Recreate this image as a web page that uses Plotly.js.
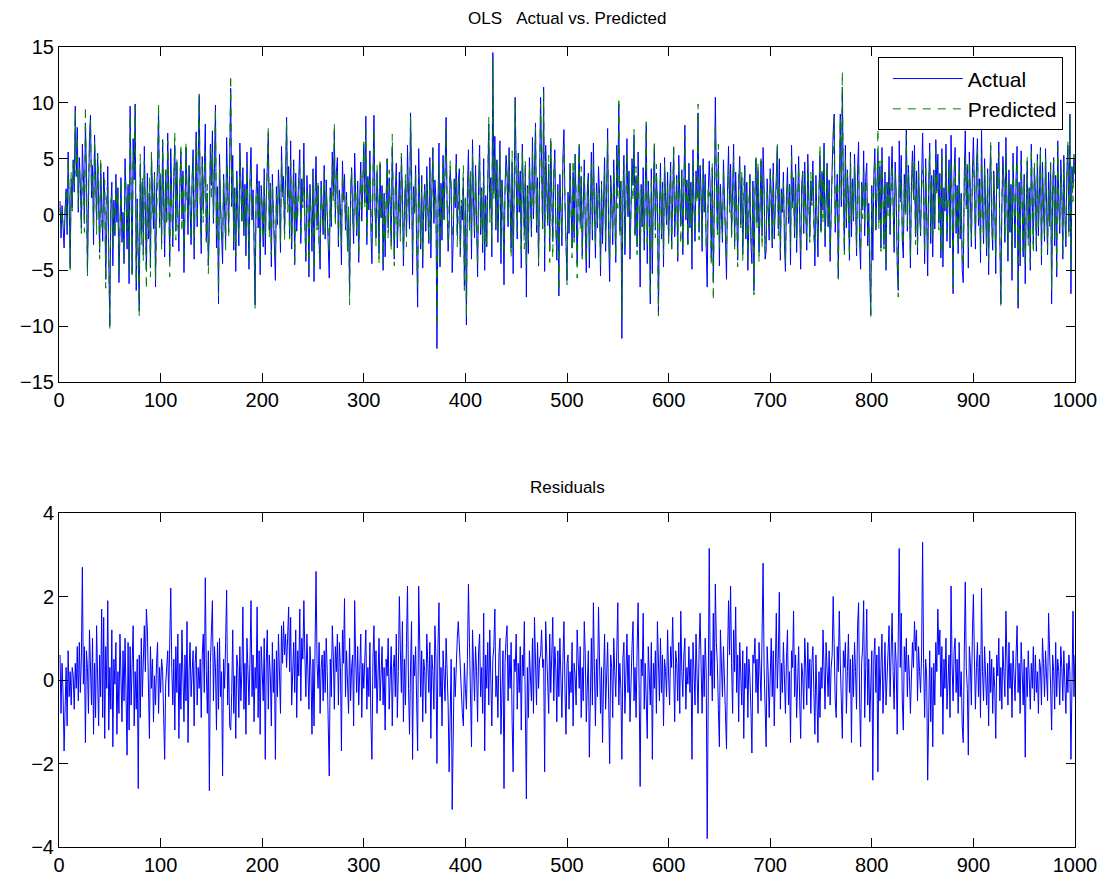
<!DOCTYPE html>
<html>
<head>
<meta charset="utf-8">
<script src="https://cdn.plot.ly/plotly-3.0.1.min.js"></script>
<style>html,body{margin:0;padding:0;background:#fff;}#chart{width:1106px;height:881px;}</style>
</head>
<body>
<div id="chart"></div>
<script>
const topTitle = "OLS\u00a0\u00a0\u00a0Actual vs. Predicted";
const bottomTitle = "Residuals";
const legendNames = ["Actual", "Predicted"];
const xTicks = [0,100,200,300,400,500,600,700,800,900,1000];
const yTicksTop = [-15,-10,-5,0,5,10,15];
const yTicksBottom = [-4,-2,0,2,4];

const actual = [
1.2,-2.1,0.8,-1.5,-3.0,0.4,2.3,-1.8,5.6,1.1,-4.8,3.2,0.6,4.9,2.0,9.7,3.4,7.8,0.2,5.1,
2.8,-1.2,6.3,3.5,-0.8,8.2,4.0,-5.2,2.6,6.9,8.9,1.5,4.4,-2.7,7.1,3.0,-0.5,5.5,2.2,-3.4,
4.6,0.9,-2.4,3.8,1.7,-5.8,2.1,4.3,-3.9,-10.0,0.5,2.9,-4.6,1.3,-1.9,3.6,-0.7,2.4,-6.1,1.0,
3.3,-2.5,0.2,-4.4,5.0,1.8,-3.1,2.7,-6.2,9.7,0.6,-5.3,6.8,3.1,9.9,-6.8,1.4,-5.5,-8.6,4.5,
-1.7,2.9,-3.6,6.1,0.3,-5.0,3.7,-2.2,1.9,-4.8,5.4,0.7,-1.3,3.8,-6.5,2.0,4.6,9.2,-0.9,3.5,
-2.6,6.7,1.2,-3.8,4.0,-0.6,7.3,2.5,-4.1,5.9,0.8,-2.9,3.4,6.2,-1.5,4.7,0.1,-3.3,2.8,5.6,
-0.4,3.9,-5.2,1.6,6.0,2.3,-1.8,4.4,0.5,-2.7,3.1,5.8,-4.0,2.2,7.4,-1.1,4.9,10.6,1.3,-3.5,
5.2,0.4,3.7,8.1,-2.3,1.9,-4.6,-1.0,6.3,2.6,7.5,-0.8,4.1,9.8,-3.0,2.5,-8.0,5.4,0.9,-2.1,
-4.4,3.6,1.0,-2.5,6.9,2.1,-1.6,4.8,11.3,0.7,5.3,-3.2,2.4,-5.1,3.9,0.3,-2.8,6.4,1.5,-0.6,
4.2,-1.9,2.7,-3.7,5.6,0.2,-4.9,3.3,6.0,-0.5,2.2,-2.6,-8.1,1.8,4.5,-1.2,3.0,-5.4,2.6,0.8,
-2.9,4.1,-3.6,1.3,5.5,7.2,-1.4,2.8,-4.7,3.6,0.1,-2.3,-5.9,2.5,-0.9,4.0,1.6,-3.4,6.1,2.0,
3.4,-1.7,5.0,8.7,1.2,4.3,-2.0,6.6,-3.1,2.3,4.9,-4.5,3.7,-1.5,0.6,2.9,5.8,-2.6,3.2,1.1,
6.4,-0.8,-4.2,3.5,1.4,-5.6,2.7,0.3,-3.3,4.1,-6.0,1.9,5.2,-1.0,2.6,-2.4,-4.9,3.0,0.7,-1.8,
4.4,-2.2,3.1,0.5,-3.6,-5.7,2.4,-1.1,5.6,1.7,7.5,-0.3,3.8,5.1,-2.9,2.2,0.4,-4.5,4.8,1.3,
3.6,-1.4,2.0,-3.2,-0.1,-7.1,1.8,4.2,0.2,-2.6,5.5,2.7,-1.9,3.0,-4.3,1.5,4.7,-0.6,2.3,6.3,
1.1,8.8,-2.7,3.4,0.4,5.7,-1.6,-4.4,2.9,8.9,0.6,-2.1,3.7,1.2,-3.5,4.5,-0.3,2.6,-5.0,1.9,
-3.8,2.4,5.0,-1.2,3.3,0.8,-2.5,6.1,1.7,-4.0,2.0,4.6,-3.0,0.9,3.8,-1.7,5.2,2.1,-4.6,0.5,
3.0,-2.0,6.2,1.6,-1.3,9.1,4.0,-5.4,2.5,0.2,4.4,-2.8,-8.3,5.9,1.0,-3.1,3.5,-4.8,0.9,2.7,
-1.5,4.3,0.7,-2.6,5.1,-3.9,2.2,6.0,-0.8,3.1,1.4,-12.0,0.5,6.4,-4.7,2.8,-2.3,5.3,-0.4,3.6,
8.7,1.0,-3.3,-1.2,4.0,2.5,-5.2,-2.4,3.2,0.6,5.4,-1.9,2.9,4.1,-3.6,0.8,-0.5,3.3,-6.4,1.4,
-9.9,2.3,5.8,-0.7,3.6,-4.0,6.7,1.2,-2.1,4.4,0.1,-5.6,3.0,6.2,-1.8,2.4,-3.4,5.0,-5.0,1.7,
-2.9,4.2,8.1,0.5,3.3,-3.8,14.5,2.1,7.0,-1.4,4.9,-2.5,1.6,6.6,-4.4,3.1,0.4,-6.3,2.5,5.3,
3.9,-1.1,6.0,1.5,-3.0,4.7,-5.3,2.0,10.5,3.6,-2.2,5.5,0.2,3.9,-4.8,6.3,1.0,-1.7,4.4,-7.4,
2.6,-3.5,5.1,0.8,-2.0,6.9,-0.4,4.0,8.2,-1.6,3.3,-4.6,2.1,10.5,4.8,-1.3,11.4,-5.1,6.2,2.9,
-0.8,4.5,-3.2,6.6,1.9,-2.4,3.4,5.8,-1.0,-4.1,2.7,-7.3,3.6,0.9,-2.8,5.2,7.6,1.1,-3.4,-5.9,
2.0,-1.7,4.6,0.3,-3.0,3.8,-2.1,5.4,1.2,-4.5,2.5,6.1,-0.6,3.4,-3.7,1.6,4.9,-1.3,-5.2,2.2,
3.7,-4.8,1.0,5.6,-2.3,6.4,0.7,-3.9,2.8,-1.2,4.3,1.9,-5.5,3.0,-2.6,0.5,5.1,-3.3,2.3,7.7,
-1.9,-6.0,3.5,1.3,-2.7,4.9,0.6,-4.3,6.2,2.4,9.9,-1.5,3.0,-11.1,1.8,5.3,-3.6,2.1,6.8,-0.2,
3.9,-4.0,1.5,5.0,2.6,7.1,-1.8,3.4,-2.9,5.6,0.4,-6.5,2.7,-1.1,4.2,-3.2,1.9,8.0,-4.4,3.0,
0.6,-8.0,4.1,-5.3,2.0,6.3,-1.4,3.7,1.1,-8.8,0.3,4.6,-2.2,2.9,-4.7,5.1,1.6,-0.9,3.8,-2.5,
1.3,4.7,-3.1,2.4,6.0,-2.0,0.8,3.5,-4.2,5.3,1.7,-1.0,4.0,-3.6,2.2,8.0,-0.5,3.1,-2.7,4.6,
-1.2,2.9,-4.9,5.8,0.6,-2.4,3.9,1.5,9.1,-1.6,4.4,2.0,-3.3,5.0,0.2,3.6,-2.8,-6.5,1.9,4.8,
2.3,-3.9,4.2,-6.1,1.0,10.5,3.2,-1.4,5.6,-4.6,2.7,0.4,-2.5,4.9,1.6,-3.0,-5.8,2.2,6.1,0.8,
4.5,-1.8,2.0,6.3,-2.9,3.8,0.5,-4.1,2.6,5.2,-0.9,3.3,-3.5,1.2,4.4,-2.2,2.9,-5.0,1.7,3.6,
-2.6,-4.4,3.0,-6.8,2.1,5.0,-0.7,3.9,-3.4,1.5,4.8,-1.9,6.0,2.4,-4.0,-3.3,3.2,0.6,-2.3,4.1,
1.9,-3.0,4.6,-2.2,0.9,3.7,6.1,-1.3,5.0,-4.1,2.3,0.2,3.8,-2.5,-5.1,1.6,4.2,-0.8,2.7,-4.5,
6.2,0.9,3.3,-2.1,4.5,-3.4,1.1,5.2,-0.4,-4.9,2.6,3.9,-1.7,4.7,0.3,-3.2,5.4,1.4,-2.0,3.0,
1.2,4.8,-2.4,-4.6,3.5,-0.9,-3.8,2.1,5.3,-1.5,3.7,0.4,6.4,-2.9,2.5,4.6,-1.1,3.1,-4.2,1.8,
4.3,7.4,9.0,-1.6,2.0,3.6,-5.6,5.1,9.0,0.7,11.4,2.4,-3.3,6.2,-1.2,4.0,1.5,-4.1,5.6,-2.0,
3.2,-0.6,5.4,1.8,-3.7,4.1,6.5,-2.5,-4.9,2.9,0.4,5.7,-1.9,3.3,4.6,-2.8,1.0,-5.2,-9.0,2.6,
-4.1,3.5,5.9,-1.4,2.2,5.5,-0.5,4.3,-3.0,6.0,1.3,-2.7,3.8,-5.0,2.9,0.6,5.2,-1.8,3.4,6.1,
0.9,-3.4,4.7,2.0,-4.5,-6.8,6.6,1.4,5.3,-2.2,-3.9,3.6,0.2,8.1,-1.5,4.4,1.9,-4.8,2.5,5.7,
1.6,6.2,-2.0,3.9,-3.6,4.8,0.5,-1.9,3.0,7.3,2.2,-4.4,5.0,1.1,-5.5,2.8,6.4,-2.6,3.5,-3.8,
4.0,-1.3,6.7,2.1,5.4,-0.8,3.7,-3.9,5.9,-4.7,2.4,0.3,6.3,-2.4,3.2,4.9,-3.0,7.1,1.6,-7.1,
3.8,6.0,-1.7,2.6,-3.5,5.1,-2.2,1.9,-5.0,-6.1,3.4,7.5,0.8,4.3,-4.8,5.6,2.0,-2.9,3.7,6.9,
2.5,-3.1,4.4,6.8,-1.0,3.2,-4.3,7.6,0.9,-2.6,5.0,1.7,-3.7,4.1,-5.4,2.8,6.2,-0.7,-3.2,3.9,
1.0,-5.3,4.6,2.3,6.5,-2.0,-8.0,0.6,5.2,3.1,-2.5,6.9,1.5,-4.2,4.0,-1.6,2.7,-5.9,5.5,0.8,
-3.0,3.3,6.1,-8.4,2.9,-4.6,5.7,1.2,-3.8,3.6,-6.2,0.7,4.8,-2.1,2.4,-5.0,6.3,1.0,-2.7,4.2,
2.0,-3.3,5.4,-1.9,3.1,6.0,-4.5,4.7,0.6,-2.4,5.9,1.3,-3.6,3.8,-0.8,4.6,-8.0,2.2,5.1,-2.8,
3.5,-5.6,6.6,1.1,-1.7,4.9,2.4,-4.0,5.3,0.2,-2.9,3.8,6.2,-1.5,9.0,-7.1,4.3,2.8,5.0,3.6
];

const predicted = [
0.6,-1.3,0.4,-1.2,-1.3,0.6,2.0,-0.7,4.9,1.5,-5.0,3.8,0.3,4.8,2.7,9.3,3.6,7.0,0.7,4.2,
3.1,-1.7,3.6,3.6,-1.6,9.7,3.3,-5.5,3.4,5.7,8.4,2.1,3.4,-1.4,6.7,3.9,-1.8,5.3,3.3,-4.0,
5.0,-0.8,-1.5,2.3,3.1,-6.6,2.3,2.4,-2.7,-10.3,1.2,1.7,-3.0,0.8,-1.8,2.7,0.6,2.2,-5.3,-0.1,
3.0,-1.5,-0.5,-3.9,4.0,2.1,-1.3,1.8,-5.0,8.9,1.2,-5.7,5.5,4.2,9.7,-6.1,0.9,-2.9,-9.2,5.4,
-2.7,3.3,-4.2,4.8,0.1,-6.7,2.5,-1.7,3.3,-5.6,5.6,0.2,-0.3,3.7,-5.9,1.6,3.7,10.0,-1.2,3.8,
-3.1,6.5,2.1,-1.9,4.1,-0.9,6.6,2.9,-5.6,3.7,0.5,-2.3,2.9,7.4,-2.3,5.0,-1.0,-1.9,2.4,6.3,
-1.6,3.8,-4.2,1.0,6.5,0.9,-0.3,4.2,-0.4,-2.3,3.0,5.1,-2.9,1.8,6.6,-0.5,4.6,10.8,0.8,-2.6,
4.6,-0.7,4.0,5.65,-2.5,2.7,-5.3,1.65,5.9,1.3,5.6,-0.3,3.3,9.5,-1.8,1.6,-7.3,4.4,1.3,-2.3,
-2.1,3.1,1.2,-3.4,4.75,2.7,-2.0,5.9,12.5,1.0,4.1,-2.4,2.3,-3.7,3.3,0.0,-1.9,5.6,2.0,-0.8,
2.45,-1.2,2.3,-2.4,4.6,0.0,-4.3,2.8,4.1,-0.1,1.6,-1.6,-8.4,2.0,2.75,-0.3,2.3,-4.1,1.8,0.6,
-2.4,3.1,-1.7,0.9,4.3,7.9,-2.0,2.7,-3.6,2.7,0.4,-2.8,-4.0,1.8,-0.5,2.9,1.4,-2.6,4.8,1.6,
2.0,-2.3,3.9,8.4,0.2,2.55,-2.2,5.1,-2.5,1.9,4.0,-4.2,2.5,-0.6,-0.1,2.8,4.1,-2.1,2.2,0.6,
4.5,-1.4,-3.8,2.4,1.1,-4.9,1.9,0.1,-2.0,3.6,-4.9,0.7,2.6,-1.4,2.8,-3.3,-4.1,2.7,0.1,-1.3,
3.7,-1.9,2.1,0.3,-2.7,-3.4,1.9,-0.7,4.3,1.1,8.2,-1.1,3.6,4.0,-2.3,1.3,0.1,-2.8,3.6,0.9,
1.65,-1.0,1.3,-3.3,0.7,-8.1,2.3,3.9,-0.4,-1.5,3.6,2.2,-1.6,2.2,-3.7,1.3,3.6,0.3,1.9,6.5,
0.5,7.6,-2.0,3.1,0.8,4.8,-0.6,-2.5,2.4,7.6,0.8,-2.8,4.5,0.8,-4.5,5.0,-0.5,1.8,-4.4,1.6,
-2.6,1.9,4.9,-2.2,4.0,0.4,-3.3,7.2,1.4,-4.6,2.4,3.5,-2.1,0.7,1.8,-2.4,5.5,0.7,-3.6,0.0,
3.6,-2.9,3.95,1.8,0.0,8.8,2.6,-3.5,1.9,0.1,3.6,-2.3,-6.6,3.65,0.7,-2.7,2.8,-3.8,0.4,2.5,
-0.7,3.2,0.3,-2.3,4.2,-2.5,1.6,5.8,-0.1,1.8,0.9,-10.0,-0.3,4.55,-4.3,2.5,-1.2,4.6,-0.5,4.1,
7.7,0.6,-2.7,1.0,4.9,2.0,-2.1,-0.9,2.9,1.0,4.8,-2.9,1.5,3.3,-3.8,1.3,0.3,4.4,-6.8,1.6,
-9.2,1.8,3.5,-1.6,3.9,-2.4,5.5,0.8,-1.6,3.6,-0.1,-4.6,2.3,5.1,-1.4,2.1,-2.6,3.4,-3.3,1.1,
-2.7,3.3,8.7,-0.7,3.0,-2.7,14.0,1.3,5.3,-1.0,4.8,-1.6,1.0,5.6,-3.1,2.9,-0.3,-3.7,2.1,4.3,
2.6,-0.6,5.4,1.7,-3.9,5.7,-3.1,1.5,10.3,2.5,-1.5,5.1,0.5,3.1,-3.6,5.7,0.9,-3.1,4.8,-4.55,
2.3,-2.6,4.4,0.6,-1.5,5.9,0.4,2.5,7.8,-1.0,2.4,-4.4,1.6,9.9,3.6,-1.6,10.9,-2.9,4.8,2.3,
-1.0,5.3,-4.3,6.9,1.3,-3.9,3.9,5.0,-1.3,-3.1,2.0,-6.9,2.6,0.8,-1.9,4.7,6.2,1.3,-2.1,-6.3,
1.4,-1.0,4.4,0.6,-3.9,4.9,-2.5,5.3,1.8,-5.7,2.0,6.3,-1.4,4.3,-4.0,2.1,3.5,-1.9,-4.2,2.0,
3.0,-2.95,0.7,4.6,-1.7,4.55,0.5,-2.8,2.3,-0.8,2.55,1.3,-4.7,2.7,-1.1,0.4,4.0,-2.6,1.9,6.8,
-1.4,-4.0,2.9,1.0,-1.8,3.9,0.4,-3.9,5.5,0.55,10.5,-1.9,3.2,-9.2,1.3,4.4,-2.8,1.8,5.7,0.1,
3.3,-3.0,1.3,4.2,1.2,7.6,-2.1,4.3,-3.6,3.75,0.6,-3.95,2.2,-1.2,2.6,-2.5,1.5,8.3,-3.0,2.2,
0.4,-7.4,3.2,-3.4,1.6,6.5,-2.1,4.5,-0.3,-9.1,0.8,3.6,-1.9,2.3,-3.6,4.6,1.4,-0.5,2.6,-2.6,
1.9,3.9,-3.4,0.9,6.2,-1.0,0.1,3.1,-3.7,4.4,2.5,-2.65,3.8,-3.2,1.6,7.0,0.2,2.8,-2.6,3.8,
-0.9,2.4,-3.0,4.9,0.4,-1.8,2.8,1.1,9.9,-2.3,2.8,1.7,-2.5,4.4,0.6,2.6,-3.0,-2.7,2.4,1.65,
2.2,-4.6,4.7,-7.7,1.2,8.2,2.3,-1.8,6.3,-3.0,1.5,0.1,-2.1,4.1,1.5,-2.1,-4.15,1.7,4.2,0.2,
2.25,-2.2,2.8,5.1,-3.1,2.05,0.8,-4.7,3.6,4.3,-1.2,3.9,-4.2,2.6,4.0,-2.0,2.1,-4.1,1.2,3.5,
-1.9,-2.65,2.4,-7.2,1.1,5.3,-1.2,4.7,-4.3,1.3,5.3,-3.0,3.2,2.1,-3.4,-1.7,2.4,0.4,-1.4,3.6,
0.9,-2.6,3.9,-1.1,0.6,2.1,6.3,-1.9,2.9,-3.4,1.9,0.5,2.9,-2.6,-4.3,1.1,3.0,-0.2,2.5,-3.0,
5.5,0.6,1.65,-1.7,3.9,-2.5,0.9,4.4,0.1,-3.5,2.2,3.8,-1.0,3.7,0.0,-2.6,4.5,1.6,-2.5,3.8,
0.8,4.0,-2.1,-3.3,2.9,-0.4,-2.3,1.9,6.2,-1.8,3.9,-0.8,5.9,-2.2,1.6,4.5,-0.7,2.4,-3.6,1.5,
3.7,5.4,8.7,-1.1,2.9,2.8,-5.8,3.45,8.6,1.3,12.8,1.7,-3.6,5.3,-0.4,3.8,0.4,-3.8,5.1,-0.5,
2.6,-0.2,4.5,1.6,-3.0,2.8,4.65,-2.0,-3.3,2.5,-0.4,3.8,-1.0,3.0,2.9,-2.2,0.5,-4.2,-9.2,1.9,
-1.7,3.0,4.9,-1.1,1.6,7.7,-1.3,4.8,-3.3,4.9,2.1,-3.1,2.9,-4.4,2.7,-0.1,3.9,-1.4,2.9,4.5,
0.7,-2.7,3.8,1.6,-3.2,-7.4,3.45,1.1,3.7,-1.7,-2.7,2.8,0.0,7.1,-1.1,3.8,1.8,-4.0,2.0,4.8,
1.3,4.8,-2.7,2.7,-3.1,4.0,0.3,-1.6,2.4,4.0,1.8,-3.5,4.5,1.0,-3.1,3.0,5.7,-1.6,3.2,-2.2,
3.6,-0.7,5.8,1.9,3.7,-1.4,2.5,-3.5,5.1,-3.4,1.9,0.5,5.3,-1.7,2.9,4.3,-2.1,4.85,1.2,-6.6,
3.1,5.0,-1.4,2.1,-2.7,4.2,-1.8,1.7,-3.9,-4.6,2.8,5.15,0.5,4.5,-3.0,4.8,1.6,-2.3,2.6,4.85,
2.0,-2.4,4.1,5.9,-0.6,2.6,-3.4,5.4,0.7,-2.1,4.2,1.6,-3.1,3.7,-4.3,2.1,6.5,-1.2,-2.4,3.6,
1.2,-3.9,4.0,2.2,5.5,-1.5,-8.3,1.3,4.4,2.9,-2.1,5.25,1.0,-3.6,3.1,-1.4,2.3,-5.0,4.8,0.7,
-2.5,2.7,4.8,-8.1,2.5,-3.8,4.8,1.0,-3.2,3.1,-4.35,0.4,5.2,-2.8,2.3,-4.3,5.9,1.2,-3.5,4.7,
1.4,-3.0,5.2,-1.1,2.6,5.7,-3.9,3.7,0.2,-2.0,5.2,1.2,-3.1,2.2,-1.1,4.8,-6.8,1.6,4.9,-2.1,
2.6,-5.2,6.1,0.9,-1.1,4.1,2.1,-3.5,4.6,0.1,-2.1,3.4,6.5,-2.1,8.8,-5.2,3.8,1.15,5.4,3.0
];

const residuals = [
0.6,-0.8,0.4,-0.3,-1.7,-0.2,0.3,-1.1,0.7,-0.4,0.2,-0.6,0.3,0.1,-0.7,0.4,-0.2,0.8,-0.5,0.9,
-0.3,0.5,2.7,-0.1,0.8,-1.5,0.7,0.3,-0.8,1.2,0.5,-0.6,1.0,-1.3,0.4,-0.9,1.3,0.2,-1.1,0.6,
-0.4,1.7,-0.9,1.5,-1.4,0.8,-0.2,1.9,-1.2,0.3,-0.7,1.2,-1.6,0.5,-0.1,0.9,-1.3,0.2,-0.8,1.1,
0.3,-1.0,0.7,-0.5,1.0,-0.3,-1.8,0.9,-1.2,0.8,-0.6,0.4,1.3,-1.1,0.2,-0.7,0.5,-2.6,0.6,-0.9,
1.0,-0.4,0.6,1.3,0.2,1.7,1.2,-0.5,-1.4,0.8,-0.2,0.5,-1.0,0.1,-0.6,0.4,0.9,-0.8,0.3,-0.3,
0.5,0.2,-0.9,-1.9,-0.1,0.3,0.7,-0.4,1.5,2.2,0.3,-0.6,0.5,-1.2,0.8,-0.3,1.1,-1.4,0.4,-0.7,
1.2,0.1,-1.0,0.6,-0.5,1.4,-1.5,0.2,0.9,-0.4,0.1,0.7,-1.1,0.4,0.8,-0.6,0.3,-0.2,0.5,-0.9,
0.6,1.1,-0.3,2.45,0.2,-0.8,0.7,-2.65,0.4,1.3,1.9,-0.5,0.8,0.3,-1.2,0.9,-0.7,1.0,-0.4,0.2,
-2.3,0.5,-0.2,0.9,2.15,-0.6,0.4,-1.1,-1.2,-0.3,1.2,-0.8,0.1,-1.4,0.6,0.3,-0.9,0.8,-0.5,0.2,
1.75,-0.7,0.4,-1.3,1.0,0.2,-0.6,0.5,1.9,-0.4,0.6,-1.0,0.3,-0.2,1.75,-0.9,0.7,-1.3,0.8,0.2,
-0.5,1.0,-1.9,0.4,1.2,-0.7,0.6,0.1,-1.1,0.9,-0.3,0.5,-1.9,0.7,-0.4,1.1,0.2,-0.8,1.3,0.4,
1.4,0.6,1.1,0.3,1.0,1.75,0.2,1.5,-0.6,0.4,0.9,-0.3,1.2,-0.9,0.7,0.1,1.7,-0.5,1.0,0.5,
1.9,0.6,-0.4,1.1,0.3,-0.7,0.8,0.2,-1.3,0.5,-1.1,1.2,2.6,0.4,-0.2,0.9,-0.8,0.3,0.6,-0.5,
0.7,-0.3,1.0,0.2,-0.9,-2.3,0.5,-0.4,1.3,0.6,-0.7,0.8,0.2,1.1,-0.6,0.9,0.3,-1.7,1.2,0.4,
1.95,-0.4,0.7,0.1,-0.8,1.0,-0.5,0.3,0.6,-1.1,1.9,0.5,-0.3,0.8,-0.6,0.2,1.1,-0.9,0.4,-0.2,
0.6,1.2,-0.7,0.3,-0.4,0.9,-1.0,-1.9,0.5,1.3,-0.2,0.7,-0.8,0.4,1.0,-0.5,0.2,0.8,-0.6,0.3,
-1.2,0.5,0.1,1.0,-0.7,0.4,0.8,-1.1,0.3,0.6,-0.4,1.1,-0.9,0.2,2.0,0.7,-0.3,1.4,-1.0,0.5,
-0.6,0.9,2.25,-0.2,-1.3,0.3,1.4,-1.9,0.6,0.1,0.8,-0.5,-1.7,2.25,0.3,-0.4,0.7,-1.0,0.5,0.2,
-0.8,1.1,0.4,-0.3,0.9,-1.4,0.6,0.2,-0.7,1.3,0.5,-2.0,0.8,1.85,-0.4,0.3,-1.1,0.7,0.1,-0.5,
1.0,0.4,-0.6,-2.2,-0.9,0.5,-3.1,-1.5,0.3,-0.4,0.6,1.0,1.4,0.8,0.2,-0.5,-0.8,-1.1,0.4,-0.2,
-0.7,0.5,2.3,0.9,-0.3,-1.6,1.2,0.4,-0.5,0.8,0.2,-1.0,0.7,1.1,-0.4,0.3,-0.8,1.6,-1.7,0.6,
-0.2,0.9,-0.6,1.2,0.3,-1.1,0.5,0.8,1.7,-0.4,0.1,-0.9,0.6,1.0,-1.3,0.2,0.7,-2.6,0.4,1.0,
1.3,-0.5,0.6,-0.2,0.9,-1.0,-2.2,0.5,0.2,1.1,-0.7,0.4,-0.3,0.8,-1.2,0.6,0.1,1.4,-0.4,-2.85,
0.3,-0.9,0.7,0.2,-0.5,1.0,-0.8,1.5,0.4,-0.6,0.9,-0.2,0.5,0.6,1.2,0.3,0.5,-2.2,1.4,0.6,
0.2,-0.8,1.1,-0.3,0.6,1.5,-0.5,0.8,0.3,-1.0,0.7,-0.4,1.0,0.1,-0.9,0.5,1.4,-0.2,-1.3,0.4,
0.6,-0.7,0.2,-0.3,0.9,-1.1,0.4,0.1,-0.6,1.2,0.5,-0.2,0.8,-0.9,0.3,-0.5,1.4,0.6,-1.0,0.2,
0.7,-1.85,0.3,1.0,-0.6,1.85,0.2,-1.1,0.5,-0.4,1.75,0.6,-0.8,0.3,-1.5,0.1,1.1,-0.7,0.4,0.9,
-0.5,-2.0,0.6,0.3,-0.9,1.0,0.2,-0.4,0.7,1.85,-0.6,0.4,-0.2,-1.9,0.5,0.9,-0.8,0.3,1.1,-0.3,
0.6,-1.0,0.2,0.8,1.4,-0.5,0.3,-0.9,0.7,1.85,-0.2,-2.55,0.5,0.1,1.6,-0.7,0.4,-0.3,-1.4,0.8,
0.2,-0.6,0.9,-1.9,0.4,-0.2,0.7,-0.8,1.4,0.3,-0.5,1.0,-0.3,0.6,-1.1,0.5,0.2,-0.4,1.2,0.1,
-0.6,0.8,0.3,1.5,-0.2,-1.0,0.7,0.4,-0.5,0.9,-0.8,1.65,0.2,-0.4,0.6,1.0,-0.7,0.3,-0.1,0.8,
-0.3,0.5,-1.9,0.9,0.2,-0.6,1.1,0.4,-0.8,0.7,1.6,0.3,-0.8,0.6,-0.4,1.0,0.2,-3.8,-0.5,3.15,
0.1,0.7,-0.5,1.6,-0.2,2.3,0.9,0.4,-0.7,-1.6,1.2,0.3,-0.4,0.8,0.1,-0.9,-1.65,0.5,1.9,0.6,
2.25,0.4,-0.8,1.2,0.2,1.75,-0.3,0.6,-1.0,0.9,0.3,-0.6,0.7,-1.4,0.4,-0.2,0.8,-0.9,0.5,0.1,
-0.7,-1.75,0.6,0.4,1.0,-0.3,0.5,-0.8,0.9,0.2,-0.5,1.1,2.8,0.3,-0.6,-1.6,0.8,0.2,-0.9,0.5,
1.0,-0.4,0.7,-1.1,0.3,1.6,-0.2,0.6,2.1,-0.7,0.4,-0.3,0.9,0.1,-0.8,0.5,1.2,-0.6,0.2,-1.5,
0.7,0.3,1.65,-0.4,0.6,-0.9,0.2,0.8,-0.5,-1.4,0.4,0.1,-0.7,1.0,0.3,-0.6,0.9,-0.2,0.5,-0.8,
0.4,0.8,-0.3,-1.3,0.6,-0.5,-1.5,0.2,-0.9,0.3,-0.2,1.2,0.5,-0.7,0.9,0.1,-0.4,0.7,-0.6,0.3,
0.6,2.0,0.3,-0.5,-0.9,0.8,0.2,1.65,0.4,-0.6,-1.4,0.7,0.3,0.9,-0.8,0.2,1.1,-0.3,0.5,-1.5,
0.6,-0.4,0.9,0.2,-0.7,1.3,1.85,-0.5,-1.6,0.4,0.8,1.9,-0.9,0.3,1.7,-0.6,0.5,-1.0,0.2,0.7,
-2.4,0.5,1.0,-0.3,0.6,-2.2,0.8,-0.5,0.3,1.1,-0.8,0.4,0.9,-0.6,0.2,0.7,1.3,-0.4,0.5,1.6,
0.2,-0.7,0.9,0.4,-1.3,0.6,3.15,0.3,1.6,-0.5,-1.2,0.8,0.2,1.0,-0.4,0.6,0.1,-0.8,0.5,0.9,
0.3,1.4,0.7,1.2,-0.5,0.8,0.2,-0.3,0.6,3.3,0.4,-0.9,0.5,0.1,-2.4,-0.2,0.7,-1.0,0.3,-1.6,
0.4,-0.6,0.9,0.2,1.7,0.6,1.2,-0.4,0.8,-1.3,0.5,-0.2,1.0,-0.7,0.3,0.6,-0.9,2.25,0.4,-0.5,
0.7,1.0,-0.3,0.5,-0.8,0.9,-0.4,0.2,-1.1,-1.5,0.6,2.35,0.3,-0.2,-1.8,0.8,0.4,-0.6,1.1,2.05,
0.5,-0.7,0.3,0.9,-0.4,0.6,-0.9,2.2,0.2,-0.5,0.8,0.1,-0.6,0.4,-1.1,0.7,-0.3,0.5,-0.8,0.3,
-0.2,-1.4,0.6,0.1,1.0,-0.5,0.3,-0.7,0.8,0.2,-0.4,1.65,0.5,-0.6,0.9,-0.2,0.4,-0.9,0.7,0.1,
-0.5,0.6,1.3,-0.3,0.4,-0.8,0.9,0.2,-0.6,0.5,-1.85,0.3,-0.4,0.7,0.1,-0.7,0.4,-0.2,0.8,-0.5,
0.6,-0.3,0.2,-0.8,0.5,0.3,-0.6,1.0,0.4,-0.4,0.7,0.1,-0.5,1.6,0.3,-0.2,-1.2,0.6,0.2,-0.7,
0.9,-0.4,0.5,0.2,-0.6,0.8,0.3,-0.5,0.7,0.1,-0.8,0.4,-0.3,0.6,0.2,-1.9,0.5,1.65,-0.4,0.6
];

const obs = actual.map((_, i) => i + 1);

const FONT = "Liberation Sans, Arial, Helvetica, sans-serif";

const traces = [
  {x: obs, y: actual, type: 'scatter', mode: 'lines', name: legendNames[0],
   line: {color: '#0000ff', width: 1}, xaxis: 'x', yaxis: 'y'},
  {x: obs, y: predicted, type: 'scatter', mode: 'lines', name: legendNames[1],
   line: {color: '#008000', width: 1, dash: '8px,7px'}, xaxis: 'x', yaxis: 'y'},
  {x: obs, y: residuals, type: 'scatter', mode: 'lines', name: 'Residuals', showlegend: false,
   line: {color: '#0000ff', width: 1}, xaxis: 'x2', yaxis: 'y2'}
];

function axisBase(extra) {
  return Object.assign({
    showline: true, linecolor: 'black', linewidth: 1, mirror: 'ticks',
    ticks: 'inside', ticklen: 9, tickwidth: 1, tickcolor: 'black',
    showgrid: false, zeroline: false,
    tickfont: {family: FONT, size: 20, color: 'black'},
    fixedrange: true
  }, extra);
}

const layout = {
  width: 1106, height: 881,
  margin: {l: 59, r: 31, t: 47, b: 34, pad: 0},
  paper_bgcolor: 'white', plot_bgcolor: 'white',
  font: {family: FONT, size: 20, color: 'black'},
  showlegend: true,
  legend: {x: 0.988, xanchor: 'right', y: 0.987, yanchor: 'top',
    bgcolor: 'white', bordercolor: 'black', borderwidth: 1,
    font: {family: FONT, size: 21, color: 'black'}, itemwidth: 70, indentation: 9, tracegroupgap: 0},
  xaxis: axisBase({domain: [0, 1], range: [0, 1000], tickvals: xTicks, ticktext: xTicks.map(String), anchor: 'y'}),
  yaxis: axisBase({domain: [0.58125, 1], range: [-15, 15], tickvals: yTicksTop, anchor: 'x'}),
  xaxis2: axisBase({domain: [0, 1], range: [0, 1000], tickvals: xTicks, ticktext: xTicks.map(String), anchor: 'y2'}),
  yaxis2: axisBase({domain: [0, 0.4175], range: [-4, 4], tickvals: yTicksBottom, anchor: 'x2'}),
  annotations: [
    {text: topTitle, xref: 'paper', yref: 'paper', x: 0.5, y: 1.036, xanchor: 'center', yanchor: 'middle',
     showarrow: false, font: {family: FONT, size: 17, color: 'black'}},
    {text: bottomTitle, xref: 'paper', yref: 'paper', x: 0.5, y: 0.449, xanchor: 'center', yanchor: 'middle',
     showarrow: false, font: {family: FONT, size: 17, color: 'black'}}
  ]
};

Plotly.newPlot('chart', traces, layout, {displayModeBar: false, staticPlot: true});
</script>
</body>
</html>
